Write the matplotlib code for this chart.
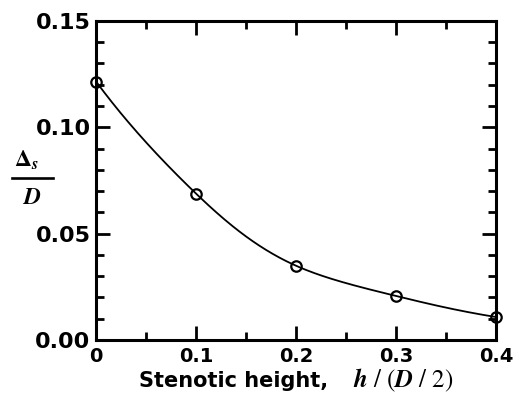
import numpy as np
import matplotlib
matplotlib.use("Agg")
import matplotlib.pyplot as plt
from matplotlib.lines import Line2D

# ---------- DATA ----------
height = [0.0, 0.1, 0.2, 0.3, 0.4]
delta_s = [0.1215, 0.0688, 0.0349, 0.0207, 0.0108]
xticks = [0, 0.1, 0.2, 0.3, 0.4]
xtick_labels = ["0", "0.1", "0.2", "0.3", "0.4"]
yticks = [0.00, 0.05, 0.10, 0.15]
ytick_labels = ["0.00", "0.05", "0.10", "0.15"]
# --------------------------


def natural_spline(x, y, xs):
    # natural cubic spline through the points (used for the smooth line only)
    x = np.asarray(x, float)
    y = np.asarray(y, float)
    n = len(x)
    h = np.diff(x)
    A = np.zeros((n, n))
    b = np.zeros(n)
    A[0, 0] = A[-1, -1] = 1
    for i in range(1, n - 1):
        A[i, i - 1] = h[i - 1]
        A[i, i] = 2 * (h[i - 1] + h[i])
        A[i, i + 1] = h[i]
        b[i] = 3 * ((y[i + 1] - y[i]) / h[i] - (y[i] - y[i - 1]) / h[i - 1])
    c = np.linalg.solve(A, b)
    out = np.empty_like(xs)
    for k, xv in enumerate(xs):
        i = min(max(np.searchsorted(x, xv) - 1, 0), n - 2)
        dx = xv - x[i]
        bi = (y[i + 1] - y[i]) / h[i] - h[i] * (2 * c[i] + c[i + 1]) / 3
        di = (c[i + 1] - c[i]) / (3 * h[i])
        out[k] = y[i] + bi * dx + c[i] * dx ** 2 + di * dx ** 3
    return out


plt.rcParams["font.family"] = "DejaVu Sans"

fig = plt.figure(figsize=(5.25, 3.94), dpi=100)
ax = fig.add_axes([0.183, 0.137, 0.762, 0.810])

# smooth the curve in log space so it stays convex
xs = np.linspace(height[0], height[-1], 300)
curve = np.exp(natural_spline(height, np.log(delta_s), xs))
ax.plot(xs, curve, color="black", lw=1.3)
ax.plot(height, delta_s, "o", ms=7.5, mfc="none", mec="black", mew=1.6,
        clip_on=False)

ax.set_xlim(0, 0.4)
ax.set_ylim(0, 0.15)
ax.set_xticks(xticks)
ax.set_xticklabels(xtick_labels, fontsize=14, fontweight="bold")
ax.set_yticks(yticks)
ax.set_yticklabels(ytick_labels, fontsize=16, fontweight="bold")
ax.set_xticks(np.arange(0, 0.401, 0.05), minor=True)
ax.set_yticks(np.arange(0, 0.151, 0.01), minor=True)
ax.tick_params(which="both", direction="in", top=True, right=True, width=2)
ax.tick_params(which="major", length=10)
ax.tick_params(which="minor", length=6)
ax.tick_params(axis="y", which="major", pad=4)
ax.tick_params(axis="x", which="major", pad=5)
for s in ax.spines.values():
    s.set_linewidth(2.2)

# x label: bold sans text followed by italic serif expression
fig.text(0.265, 0.018, "Stenotic height,", fontsize=15, fontweight="bold",
         ha="left", va="baseline")
fig.text(0.672, 0.018, r"$\mathbfit{h}\ /\ (\mathbfit{D}\ /\ 2)$", fontsize=18,
         ha="left", va="baseline", math_fontfamily="stix")

# y label: fraction Delta_s / D
fig.text(0.050, 0.576, r"$\mathbf{\Delta}_{\mathbfit{s}}$", fontsize=17,
         ha="center", va="baseline", math_fontfamily="stix")
fig.add_artist(Line2D([0.023, 0.101], [0.548, 0.548], color="black", lw=1.9,
                      transform=fig.transFigure))
fig.text(0.061, 0.530, r"$\mathbfit{D}$", fontsize=17, ha="center", va="top",
         math_fontfamily="stix")

fig.savefig("out.png", dpi=100)
